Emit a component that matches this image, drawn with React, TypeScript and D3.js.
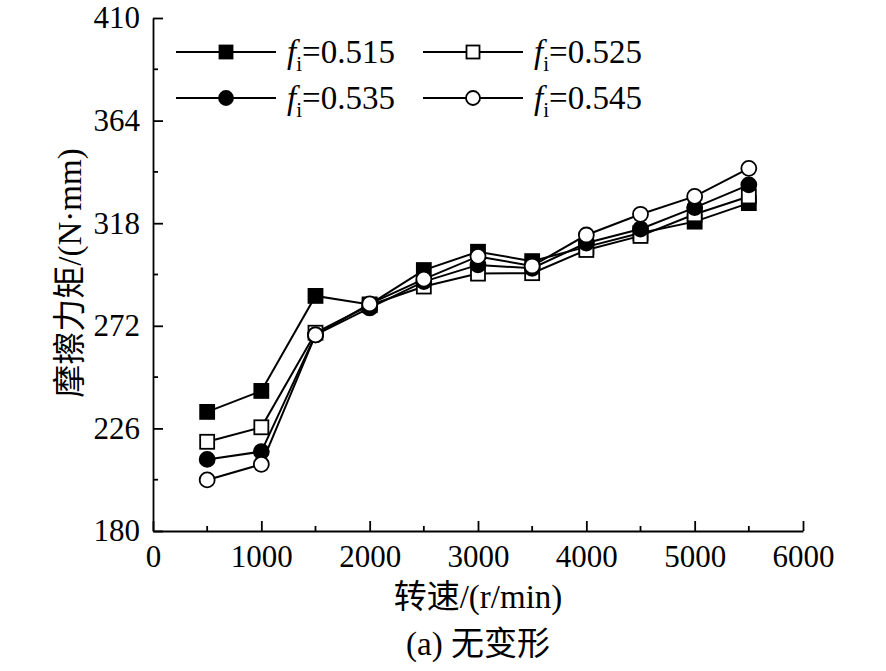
import { useEffect, useRef } from 'react';
import * as d3 from 'd3';

const speeds = [500, 1000, 1500, 2000, 2500, 3000, 3500, 4000, 4500, 5000, 5500];

const fi515 = [233.4, 242.8, 285.4, 281.6, 297.0, 305.2, 301.0, 307.4, 313.6, 318.7, 327.0];
const fi525 = [220.0, 226.5, 268.9, 281.2, 289.6, 295.4, 295.6, 306.0, 312.3, 322.0, 330.0];
const fi535 = [212.1, 215.6, 267.9, 280.0, 291.8, 299.3, 297.8, 309.1, 315.4, 325.0, 335.2];
const fi545 = [202.9, 209.9, 267.9, 281.8, 292.9, 303.1, 298.8, 312.7, 322.0, 330.0, 342.6];

const labels = ['0.515', '0.525', '0.535', '0.545'];
const yTicks = [180, 226, 272, 318, 364, 410];
const xTicks = [0, 1000, 2000, 3000, 4000, 5000, 6000];

type Marker = 'squareFilled' | 'squareOpen' | 'circleFilled' | 'circleOpen';

interface Series {
  label:  string;
  values: number[];
  marker: Marker;
}

const series: Series[] = [
  { label: labels[0], values: fi515, marker: 'squareFilled' },
  { label: labels[1], values: fi525, marker: 'squareOpen' },
  { label: labels[2], values: fi535, marker: 'circleFilled' },
  { label: labels[3], values: fi545, marker: 'circleOpen' },
];

const FONT = '"Liberation Serif", "Times New Roman", serif';
const CJK  = '"Liberation Serif", "Noto Sans CJK SC", serif';

function drawMarker(sel: d3.Selection<SVGGElement, unknown, null, undefined>, m: Marker, x: number, y: number, size: number) {
  const fill = m === 'squareFilled' || m === 'circleFilled' ? '#000' : '#fff';
  if (m === 'squareFilled' || m === 'squareOpen') {
    sel.append('rect')
      .attr('x', x - size / 2).attr('y', y - size / 2)
      .attr('width', size).attr('height', size)
      .attr('fill', fill).attr('stroke', '#000').attr('stroke-width', 1.8);
  } else {
    sel.append('circle')
      .attr('cx', x).attr('cy', y).attr('r', size / 2 + 0.5)
      .attr('fill', fill).attr('stroke', '#000').attr('stroke-width', 1.8);
  }
}

export default function App() {
  const ref = useRef<SVGSVGElement>(null);

  useEffect(() => {
    document.body.style.margin = '0';
    if (!ref.current) return;

    const svg    = d3.select(ref.current);
    const margin = { top: 18, left: 153, right: 83, bottom: 140 };
    const W      = 886 - margin.left - margin.right;
    const H      = 671 - margin.top - margin.bottom;

    svg.selectAll('*').remove();

    const g = svg.append('g').attr('transform', `translate(${margin.left},${margin.top})`);

    const x = d3.scaleLinear().domain([0, 6000]).range([0, W]);
    const y = d3.scaleLinear().domain([180, 410]).range([H, 0]);

    // minor ticks
    const minorY = d3.range(203, 410, 46);
    g.append('g').selectAll('line').data(minorY).enter().append('line')
      .attr('x1', 0).attr('x2', 5)
      .attr('y1', (d: number) => y(d)).attr('y2', (d: number) => y(d))
      .attr('stroke', '#000').attr('stroke-width', 1.8);
    const minorX = d3.range(500, 6000, 1000);
    g.append('g').selectAll('line').data(minorX).enter().append('line')
      .attr('x1', (d: number) => x(d)).attr('x2', (d: number) => x(d))
      .attr('y1', H).attr('y2', H - 5)
      .attr('stroke', '#000').attr('stroke-width', 1.8);

    // Y axis
    const yAxis = g.append('g')
      .call(d3.axisLeft(y).tickValues(yTicks).tickSizeInner(-10).tickSizeOuter(0).tickPadding(13).tickFormat(d3.format('d')));
    yAxis.attr('font-family', FONT);
    yAxis.selectAll('path, line').attr('stroke', '#000').attr('stroke-width', 1.8);
    yAxis.selectAll('text').attr('font-size', '31px').attr('font-family', FONT).attr('fill', '#000');

    // X axis
    const xAxis = g.append('g')
      .attr('transform', `translate(0,${H})`)
      .call(d3.axisBottom(x).tickValues(xTicks).tickSizeInner(-10).tickSizeOuter(0).tickPadding(14).tickFormat(d3.format('d')));
    xAxis.attr('font-family', FONT);
    xAxis.selectAll('path, line').attr('stroke', '#000').attr('stroke-width', 1.8);
    xAxis.selectAll('text').attr('font-size', '31px').attr('font-family', FONT).attr('fill', '#000');

    // lines
    const line = d3.line<number>()
      .x((_d: number, i: number) => x(speeds[i]))
      .y((d: number) => y(d));

    series.forEach((s) => {
      g.append('path')
        .datum(s.values)
        .attr('fill', 'none')
        .attr('stroke', '#000')
        .attr('stroke-width', 2)
        .attr('d', line);
    });

    // markers
    series.forEach((s) => {
      const mg = g.append('g');
      s.values.forEach((v, i) => drawMarker(mg, s.marker, x(speeds[i]), y(v), 14));
    });

    // legend
    const legend = svg.append('g');
    const cols = [176, 423];
    const rows = [52, 98];
    series.forEach((s, i) => {
      const lx = cols[i % 2];
      const ly = rows[Math.floor(i / 2)];
      const lg = legend.append('g');
      lg.append('line')
        .attr('x1', lx).attr('x2', lx + 100)
        .attr('y1', ly).attr('y2', ly)
        .attr('stroke', '#000').attr('stroke-width', 2);
      drawMarker(lg, s.marker, lx + 50, ly, 13);
      const t = lg.append('text')
        .attr('x', lx + 111).attr('y', ly + 11)
        .attr('font-family', FONT).attr('font-size', '33px').attr('fill', '#000');
      t.append('tspan').attr('font-style', 'italic').text('f');
      t.append('tspan').attr('font-size', '21px').attr('dy', 8).text('i');
      t.append('tspan').attr('dy', -8).text(`=${s.label}`);
    });

    // titles
    svg.append('text')
      .attr('x', margin.left + x(3000)).attr('y', 608)
      .attr('text-anchor', 'middle')
      .attr('font-family', CJK).attr('font-size', '33px')
      .text('转速/(r/min)');

    svg.append('text')
      .attr('transform', 'translate(81,273) rotate(-90)')
      .attr('text-anchor', 'middle')
      .attr('font-family', CJK).attr('font-size', '33px')
      .text('摩擦力矩/(N·mm)');

    svg.append('text')
      .attr('x', margin.left + x(3000)).attr('y', 655)
      .attr('text-anchor', 'middle')
      .attr('font-family', CJK).attr('font-size', '33px')
      .text('(a) 无变形');
  }, []);

  return <svg ref={ref} width={886} height={671} style={{ display: 'block', background: '#fff' }} />;
}
